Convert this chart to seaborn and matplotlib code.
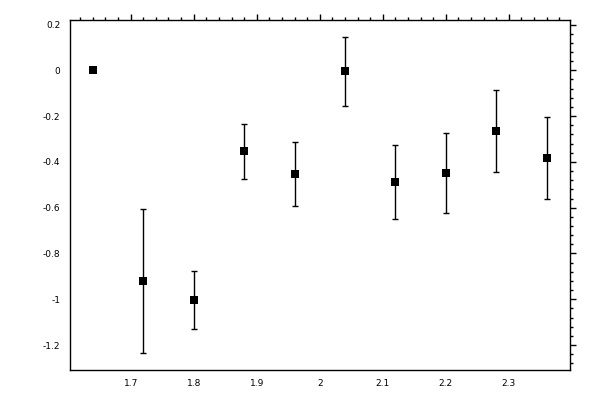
import matplotlib
matplotlib.use("Agg")
import matplotlib.pyplot as plt
import matplotlib.ticker as mticker
import numpy as np
import pandas as pd
import seaborn as sns

x_vals = [1.64, 1.72, 1.80, 1.88, 1.96, 2.04, 2.12, 2.20, 2.28, 2.36]
y_vals = [0.0, -0.919, -1.002, -0.353, -0.453, -0.004, -0.488, -0.449, -0.266, -0.383]
y_err = [np.nan, 0.315, 0.126, 0.120, 0.139, 0.150, 0.163, 0.174, 0.178, 0.180]

df = pd.DataFrame({"x": x_vals, "y": y_vals, "err": y_err})

sns.set_theme(style="white")
plt.rcParams["font.family"] = ["DejaVu Sans"]
plt.rcParams["axes.unicode_minus"] = False

fig = plt.figure(figsize=(6, 4), dpi=100)
ax = fig.add_axes([69.5 / 600, 1 - 370 / 400, (570 - 69.5) / 600, (370 - 19.5) / 400])

eb = df.dropna(subset=["err"])
ax.errorbar(eb["x"], eb["y"], yerr=eb["err"], fmt="none", ecolor="black",
            elinewidth=1.0, capsize=2.0, capthick=1.0, zorder=2)
sns.scatterplot(data=df, x="x", y="y", marker="s", color="black", s=26,
                edgecolor="black", linewidth=0, ax=ax, zorder=3)

ax.set_xlim(1.603, 2.397)
ax.set_ylim(-1.309, 0.222)
ax.set_xlabel("")
ax.set_ylabel("")

ax.xaxis.set_major_locator(mticker.MultipleLocator(0.1))
ax.xaxis.set_minor_locator(mticker.MultipleLocator(0.02))
ax.yaxis.set_major_locator(mticker.MultipleLocator(0.2))
ax.yaxis.set_minor_locator(mticker.MultipleLocator(0.04))
fmt = mticker.FuncFormatter(lambda v, p: ("%g" % round(v, 6)) if abs(v) > 1e-9 else "0")
ax.xaxis.set_major_formatter(fmt)
ax.yaxis.set_major_formatter(fmt)

ax.tick_params(which="both", direction="out", top=True, right=True,
               labeltop=False, labelright=False, color="black", width=1.0,
               labelsize=6.5, labelcolor="black", pad=2)
ax.tick_params(which="major", length=4.5)
ax.tick_params(which="minor", length=2.3)

for sp in ax.spines.values():
    sp.set_visible(True)
    sp.set_color("black")
    sp.set_linewidth(1.0)

fig.savefig("out.png", dpi=100, facecolor="white")
